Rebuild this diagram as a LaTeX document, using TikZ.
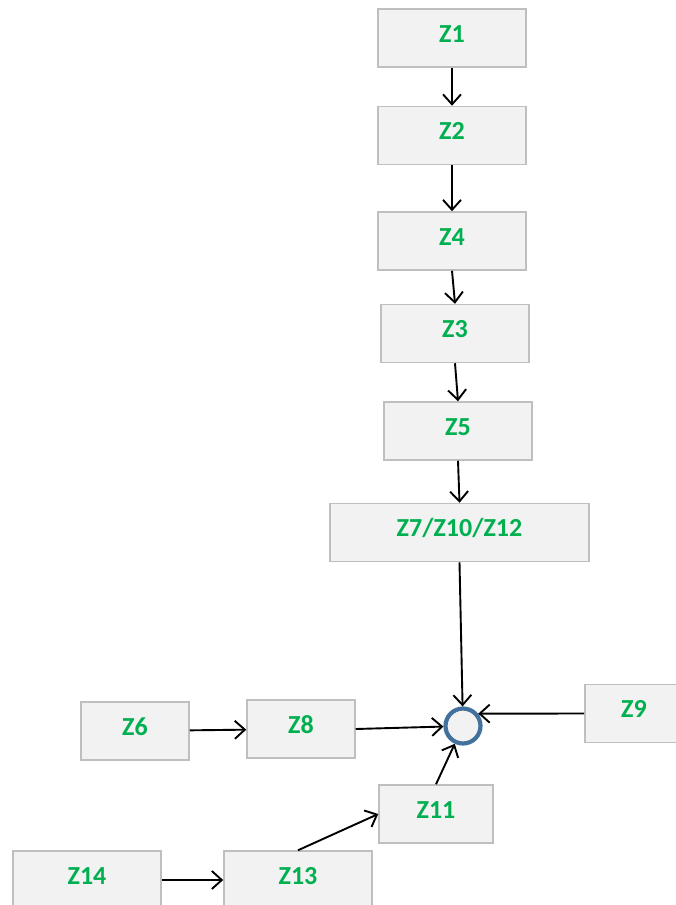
\documentclass[tikz,border=0pt]{standalone}
\usepackage{fontspec}
\setmainfont{Carlito}
\usetikzlibrary{arrows.meta,positioning}

\definecolor{zgreen}{HTML}{00B050}
\definecolor{zfill}{HTML}{F2F2F2}
\definecolor{zline}{HTML}{BFBFBF}
\definecolor{zblue}{HTML}{41719C}

\tikzset{
  zbox/.style={draw=zline, fill=zfill, line width=1.5pt, minimum width=148pt, minimum height=58pt,
    inner sep=0pt, text=zgreen, font=\fontsize{26}{28}\selectfont\bfseries, text height=17pt, text depth=9pt},
  zarrow/.style={-{Straight Barb[length=10pt,width=18pt,line width=1.9pt]}, line width=1.9pt}
}

\begin{document}
\begin{tikzpicture}[x=1pt, y=-1pt]
        \useasboundingbox (0,0) rectangle (675,905);
        \node [zbox] (z1) at (452,38) {Z1};
        \node [zbox, below=38pt of z1] (z2) {Z2};
        \node [zbox, below=46pt of z2] (z4) {Z4};
        \node [zbox, below=33pt of z4, xshift=3pt] (z3) {Z3};
        \node [zbox, below=38pt of z3, xshift=3pt] (z5) {Z5};
        \node [zbox, below=42pt of z5, xshift=1.5pt, minimum width=259pt] (z7) {Z7/Z10/Z12};

        \node [circle, draw=zblue, fill=zfill, line width=4.2pt, minimum size=35pt, inner sep=0pt] (sum) at (463,726) {};

        \node [zbox, minimum width=108pt] (z6) at (135,731) {Z6};
        \node [zbox, minimum width=108pt] (z8) at (301,729) {Z8};
        \node [zbox, minimum width=100pt, anchor=west] (z9) at (584,713.5) {};
        \node [text=zgreen, font=\fontsize{26}{28}\selectfont\bfseries, text height=17pt, text depth=9pt] at (634,713.5) {Z9};
        \node [zbox, minimum width=114pt] (z11) at (436,814) {Z11};
        \node [zbox] (z13) at (298,880) {Z13};
        \node [zbox] (z14) at (87,880) {Z14};

        \draw [zarrow] (z1) -- (z2);
        \draw [zarrow] (z2) -- (z4);
        \draw [zarrow] (z4.south) -- (z3.north);
        \draw [zarrow] (z3.south) -- (z5.north);
        \draw [zarrow] (z5.south) -- (z7.north);
        \draw [zarrow] (z7.south) -- (sum);
        \draw [zarrow] (z6) -- (z8);
        \draw [zarrow] (z8.east) -- (sum);
        \draw [zarrow] (z9.west) -- (sum.39);
        \draw [zarrow] (z11.north) -- (sum);
        \draw [zarrow] (z13.north) -- (z11.west);
        \draw [zarrow] (z14) -- (z13);
      \end{tikzpicture}
\end{document}
